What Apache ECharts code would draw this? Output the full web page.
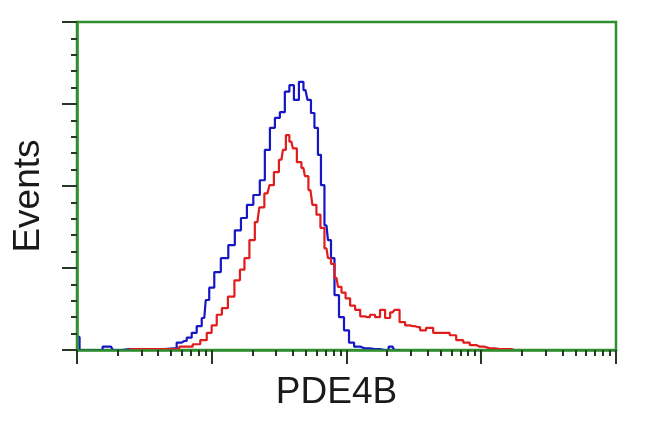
<!DOCTYPE html>
<html>
<head>
<meta charset="utf-8">
<script src="https://cdn.jsdelivr.net/npm/echarts@6/dist/echarts.min.js"></script>
<style>html,body{margin:0;padding:0;background:#fff}#c{width:650px;height:432px}</style>
</head>
<body>
<div id="c"></div>
<script>
// Intensity (log scale) and event counts
const blueX = [1, 1.03, 1.06, 1.34, 1.79, 1.9, 2.44, 3.74, 5.26, 5.73, 6.25, 6.8, 7.41, 8.07, 8.8, 9.26, 9.91, 11.0, 12.4, 14.2, 15.5, 17.5, 19.0, 21.8, 23.7, 25.9, 28.2, 30.7, 33.4, 36.4, 39.0, 42.5, 46.3, 49.6, 53.1, 55.9, 59.8, 63.0, 66.3, 71.0, 74.8, 78.7, 84.3, 91.8, 100, 109, 119, 136, 162, 192, 220, 232, 250];
const blueY = [16, 16, 0, 0, 4, 0, 1, 1, 2, 9, 11, 15, 21, 29, 39, 61, 76, 95, 112, 128, 146, 161, 177, 189, 207, 244, 271, 283, 290, 315, 323, 305, 327, 317, 305, 289, 271, 238, 201, 152, 134, 112, 67, 40, 24, 9, 4, 2, 1, 0, 4, 0, 0];
const redX = [2.44, 3.43, 4.83, 6.8, 7.67, 8.8, 9.58, 10.4, 11.4, 12.4, 14.0, 15.5, 16.9, 18.1, 20.0, 21.8, 23.3, 25.9, 27.7, 30.2, 32.9, 34.6, 36.4, 39.0, 41.0, 44.7, 47.9, 50.4, 54.0, 57.8, 61.9, 66.3, 71.0, 74.8, 78.7, 84.3, 88.7, 95.0, 102, 111, 121, 132, 143, 156, 170, 185, 202, 220, 235, 261, 284, 310, 337, 367, 414, 467, 554, 614, 692, 780, 865, 975, 1156, 1374, 1629, 1750];
const redY = [1, 1, 1, 4, 7, 12, 21, 30, 43, 51, 65, 85, 98, 112, 134, 156, 174, 191, 201, 217, 232, 244, 262, 254, 246, 229, 222, 212, 195, 177, 165, 149, 124, 112, 105, 88, 77, 70, 63, 54, 49, 41, 40, 43, 40, 49, 39, 46, 49, 34, 30, 29, 28, 24, 27, 21, 21, 18, 12, 9, 6, 4, 2, 1, 1, 0];
const yTicks = [0, 100, 200, 300, 400];
const xTitle = 'PDE4B';
const yTitle = 'Events';

const pair = (xs, ys) => xs.map((x, i) => [x, ys[i]]);
const green = '#2f8f2f';
const tickCol = '#243a24';

const chart = echarts.init(document.getElementById('c'));
chart.setOption({
  animation: false,
  backgroundColor: '#fff',
  grid: { left: 77, right: 34, top: 22, bottom: 82, show: true, borderColor: green, borderWidth: 2.5 },
  xAxis: {
    type: 'log', logBase: 10, min: 1, max: 10000, z: 5,
    name: xTitle, nameLocation: 'middle', nameGap: 24,
    nameTextStyle: { fontFamily: 'Liberation Sans', fontSize: 37, color: '#1a1a1a', padding: [0, 20, 0, 0] },
    axisLine: { show: true, onZero: false, lineStyle: { color: green, width: 2.5 } },
    axisTick: { show: true, inside: false, length: 14, lineStyle: { color: tickCol, width: 2 } },
    minorTick: { show: true, splitNumber: 9, length: 6, lineStyle: { color: tickCol, width: 2 } },
    axisLabel: { show: false }, splitLine: { show: false }, minorSplitLine: { show: false }
  },
  yAxis: {
    type: 'value', min: yTicks[0], max: yTicks[yTicks.length - 1], interval: 100, z: 5,
    name: yTitle, nameLocation: 'middle', nameGap: 30, nameRotate: 90,
    nameTextStyle: { fontFamily: 'Liberation Sans', fontSize: 37, color: '#1a1a1a', padding: [0, 20, 0, 0] },
    axisLine: { show: true, lineStyle: { color: green, width: 2.5 } },
    axisTick: { show: true, inside: false, length: 15, lineStyle: { color: tickCol, width: 2 } },
    minorTick: { show: true, splitNumber: 5, length: 6, lineStyle: { color: tickCol, width: 2 } },
    axisLabel: { show: false }, splitLine: { show: false }, minorSplitLine: { show: false }
  },
  series: [
    { type: 'line', data: pair(blueX, blueY), showSymbol: false, z: 2, step: 'middle',
      lineStyle: { color: '#1616c4', width: 2.2 } },
    { type: 'line', data: pair(redX, redY), showSymbol: false, z: 3, step: 'middle',
      lineStyle: { color: '#e01c1c', width: 2.2 } }
  ]
});
</script>
</body>
</html>
